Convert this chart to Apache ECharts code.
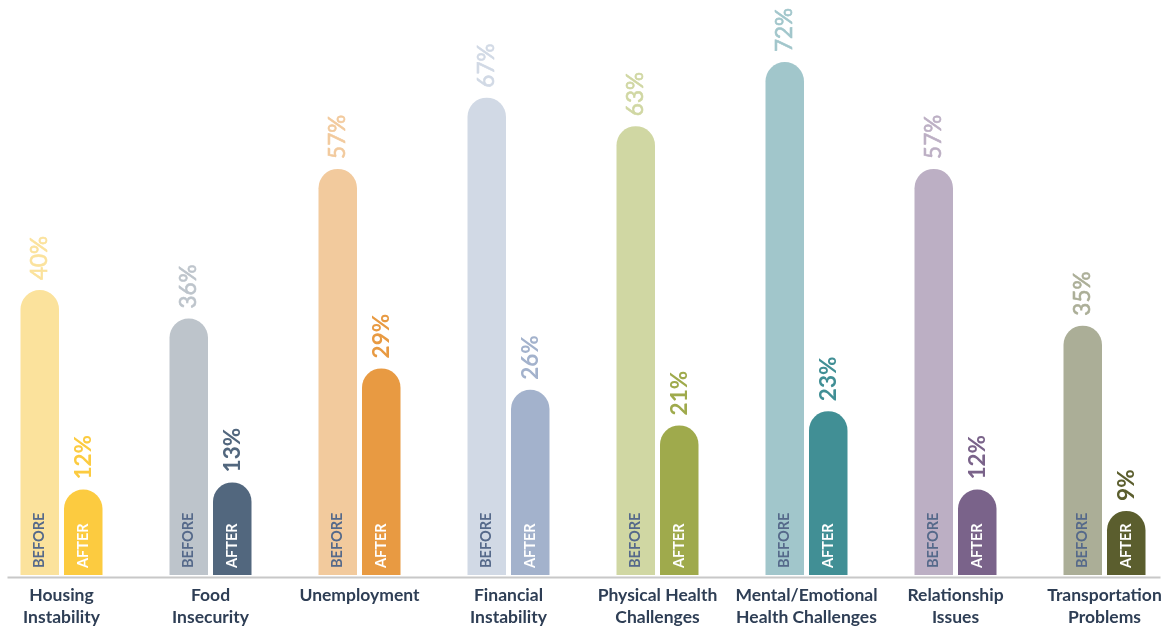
<!DOCTYPE html>
<html>
<head>
<meta charset="utf-8">
<script src="https://cdn.jsdelivr.net/npm/echarts@6/dist/echarts.min.js"></script>
<style>html,body{margin:0;padding:0;background:#fff;overflow:hidden;}#c{width:1192px;height:628px;margin-left:-13.5px;}</style>
</head>
<body>
<div id="c"></div>
<script>
const categories = ["Housing\nInstability","Food\nInsecurity","Unemployment","Financial\nInstability","Physical Health\nChallenges","Mental/Emotional\nHealth Challenges","Relationship\nIssues","Transportation\nProblems"];
const beforeValues = [40,36,57,67,63,72,57,35];
const afterValues = [12,13,29,26,21,23,12,9];
const beforeColors = ["#fbe29c","#bdc4cb","#f2ca9d","#d1d9e5","#d0d7a3","#a1c6cb","#bcafc4","#abae97"];
const afterColors = ["#fccb40","#52677e","#e89a42","#a3b2cc","#9faa4c","#418f95","#7a638a","#5b5e2e"];

const font = 'Lato, "Open Sans", sans-serif';
const chart = echarts.init(document.getElementById('c'));

function barSeries(name, vals, cols, innerText, innerColor) {
  return {
    name: name, type: 'bar', stack: name, barWidth: 38.5,
    data: vals.map((v, i) => ({value: v, itemStyle: {color: cols[i], borderRadius: [19.5, 19.5, 0, 0]}})),
    label: {show: true, position: 'insideBottom', rotate: 90, align: 'left', verticalAlign: 'middle', distance: 7,
      formatter: innerText, color: innerColor, fontFamily: font, fontSize: 14.5, fontWeight: 'bold'}
  };
}
function valueSeries(name, vals, cols, weight, border) {
  // zero-height companion bar on top of the stack, carrying the value label
  return {
    name: name + '_v', type: 'bar', stack: name, barWidth: 38.5,
    data: vals.map((v, i) => ({value: 0, label: {color: cols[i], textBorderColor: cols[i]}})),
    itemStyle: {color: 'rgba(0,0,0,0)'},
    label: {show: true, position: 'top', rotate: 90, align: 'left', verticalAlign: 'middle', distance: 10,
      formatter: p => vals[p.dataIndex] + '%', fontFamily: font, fontSize: 22.5, fontWeight: weight,
      textBorderWidth: border}
  };
}

chart.setOption({
  animation: false,
  grid: {left: 0, right: 0, top: 5, bottom: 51, containLabel: false},
  xAxis: {
    type: 'category', data: categories,
    axisLine: {show: false}, axisTick: {show: false},
    axisLabel: {interval: 0, color: '#2e3e55', fontFamily: font, fontWeight: 'bold', fontSize: 17.5, lineHeight: 22, margin: 9}
  },
  yAxis: {type: 'value', min: 0, max: 80, show: false, splitLine: {show: false}},
  series: [
    barSeries('before', beforeValues, beforeColors, 'BEFORE', '#55698a'),
    valueSeries('before', beforeValues, beforeColors, 'normal', 0.6),
    Object.assign(barSeries('after', afterValues, afterColors, 'AFTER', '#ffffff'), {barGap: '13%'}),
    Object.assign(valueSeries('after', afterValues, afterColors, 'bold', 0), {barGap: '13%'})
  ],
  graphic: [{type: 'line', shape: {x1: 20.5, y1: 577.5, x2: 1173.5, y2: 577.5}, style: {stroke: '#c8c8c8', lineWidth: 2}, z: 10}]
});
</script>
</body>
</html>
